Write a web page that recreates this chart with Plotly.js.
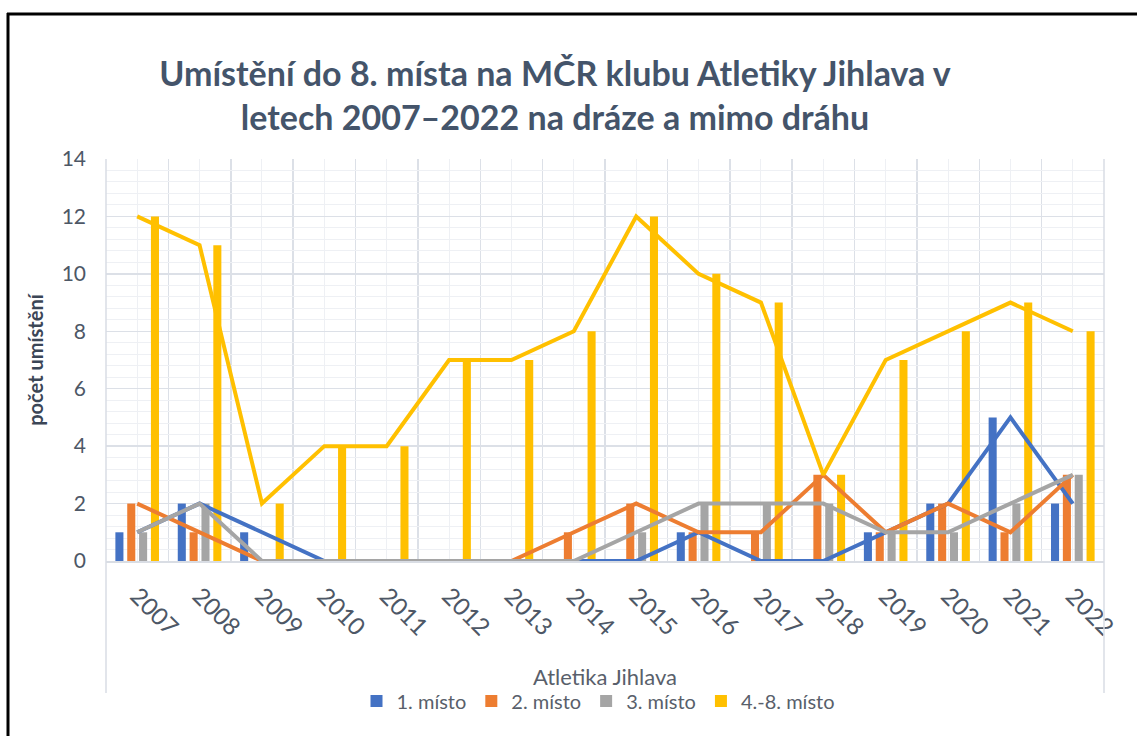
<!DOCTYPE html>
<html>
<head>
<meta charset="utf-8">
<script src="https://cdn.plot.ly/plotly-3.0.1.min.js"></script>
<style>html,body{margin:0;padding:0;background:#fff;}#chart{width:1137px;height:736px;}</style>
</head>
<body>
<div id="chart"></div>
<script>
const years = [2007,2008,2009,2010,2011,2012,2013,2014,2015,2016,2017,2018,2019,2020,2021,2022];
const seriesNames = ['1. místo','2. místo','3. místo','4.-8. místo'];
const first  = [1,2,1,0,0,0,0,0,0,1,0,0,1,2,5,2];
const second = [2,1,0,0,0,0,0,1,2,1,1,3,1,2,1,3];
const third  = [1,2,0,0,0,0,0,0,1,2,2,2,1,1,2,3];
const fourthToEighth = [12,11,2,4,4,7,7,8,12,10,9,3,7,8,9,8];
const yTicks = [0,2,4,6,8,10,12,14];

const titleText = 'Umístění do 8. místa na MČR klubu Atletiky Jihlava v<br>letech 2007–2022 na dráze a mimo dráhu';
const xTitle = 'Atletika Jihlava';
const yTitle = 'počet umístění';

const colors = ['#4472C4','#ED7D31','#A5A5A5','#FFC000'];
const allSeries = [first, second, third, fourthToEighth];

const traces = [];
allSeries.forEach((vals, i) => {
  traces.push({type:'bar', x: years, y: vals, name: seriesNames[i],
    marker:{color: colors[i]}, hoverinfo:'skip'});
});
allSeries.forEach((vals, i) => {
  traces.push({type:'scatter', mode:'lines', x: years, y: vals, name: seriesNames[i],
    line:{color: colors[i], width: 4}, showlegend:false, hoverinfo:'skip'});
});

const W = 1137, H = 736, L = 106, R = 33, T = 159, B = 175;
const pw = W - L - R, ph = H - T - B;
const px = v => (v - L) / pw;
const py = v => (H - B - v) / ph;

const textColor = '#4D5766';
const font = 'Lato, "Open Sans", sans-serif';

const layout = {
  width: W, height: H,
  margin: {l: L, r: R, t: T, b: B},
  paper_bgcolor: '#ffffff', plot_bgcolor: '#ffffff',
  barmode: 'group', bargap: 0.24, bargroupgap: 0.32,
  font: {family: font, color: textColor},
  title: {text: titleText, font: {family: font, size: 34, color: '#44546A', weight: 'bold'},
    xref: 'paper', x: px(555), xanchor: 'center', yref: 'container', y: 1 - 86/H, yanchor: 'middle'},
  xaxis: {
    range: [years[0]-0.5, years[years.length-1]+0.5],
    tickmode: 'array', tickvals: years, ticktext: years.map(String),
    tickangle: 45, tickfont: {size: 24, color: textColor}, ticklabelstandoff: 10,
    ticks: '', showline: true, linecolor: '#D9DDE4', linewidth: 1.5,
    showgrid: true, gridcolor: '#EEF0F4', gridwidth: 1,
    minor: {tickmode: 'linear', tick0: years[0]-0.5, dtick: 1, showgrid: true, gridcolor: '#DCE0E7', gridwidth: 1.5},
    zeroline: false, fixedrange: true,
    title: {text: xTitle, font: {size: 22, color: '#595F6B'}, standoff: 30}
  },
  yaxis: {
    range: [0, 14], tickmode: 'array', tickvals: yTicks,
    tickfont: {size: 21, color: textColor}, ticks: '', ticklabelstandoff: 19,
    showline: false, showgrid: true, gridcolor: '#DCE0E7', gridwidth: 1.5,
    minor: {tickmode: 'linear', tick0: 0, dtick: 0.4, showgrid: true, gridcolor: '#EEF0F4', gridwidth: 1},
    zeroline: false, fixedrange: true,
    title: {text: yTitle, font: {size: 20, color: '#3B4656', weight: 'bold'}, standoff: 12}
  },
  legend: {orientation: 'h', x: px(598), xanchor: 'center', y: py(701), yanchor: 'middle',
    font: {size: 20, color: '#595F6B'}, itemwidth: 30, traceorder: 'normal'},
  shapes: [
    {type:'line', xref:'paper', yref:'paper', x0:0, x1:0, y0:py(693), y1:1, line:{color:'#D9DDE4', width:1.5}},
    {type:'line', xref:'paper', yref:'paper', x0:1, x1:1, y0:py(693), y1:1, line:{color:'#D9DDE4', width:1.5}},
    {type:'line', xref:'paper', yref:'paper', x0:px(8), x1:px(8), y0:py(740), y1:py(13), line:{color:'#000000', width:3}},
    {type:'line', xref:'paper', yref:'paper', x0:px(7), x1:px(1145), y0:py(14), y1:py(14), line:{color:'#000000', width:3}}
  ]
};

Plotly.newPlot('chart', traces, layout, {displayModeBar: false, staticPlot: true});
</script>
</body>
</html>
